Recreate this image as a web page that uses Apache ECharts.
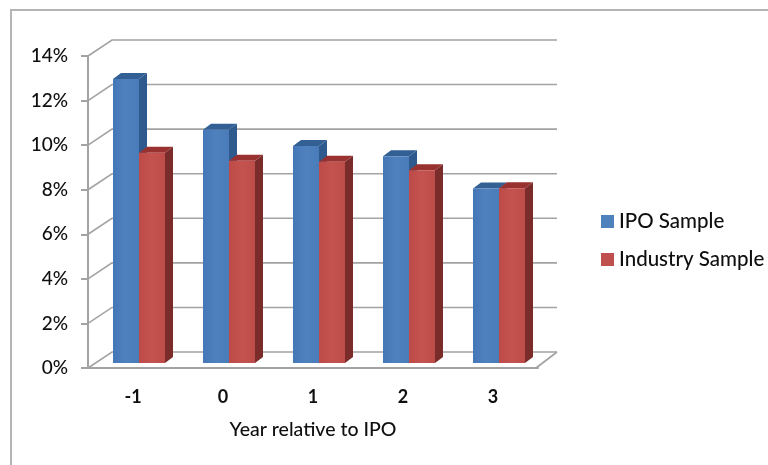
<!DOCTYPE html>
<html>
<head>
<meta charset="utf-8">
<style>html,body{margin:0;padding:0;background:#fff}#chart{width:768px;height:465px}</style>
<script src="https://cdn.jsdelivr.net/npm/echarts@6/dist/echarts.min.js"></script>
</head>
<body>
<div id="chart"></div>
<script>
// Profitability by year relative to IPO
const years = ['-1', '0', '1', '2', '3'];
const ipoSample = [12.74, 10.47, 9.74, 9.28, 7.83];
const industrySample = [9.43, 9.07, 9.03, 8.65, 7.84];
const wallTicks = [0, 2, 4, 6, 8, 10, 12, 14];

// Oblique projection used for the pseudo-3D look (pixels per depth step)
const WALL = [24, -16];        // front plane to back wall
const BAR_FRONT = [6, -5];     // front plane to front face of a bar
const BAR_DEPTH = [8, -6];     // front face to back face of a bar
const BAR_RATIO = 26 / 90;     // single bar width as a share of the category band
const LINE = '#a3a3a3';
const FONT = 'Lato';
const TEXT = '#0f0f0f';

function poly(points, fill) {
  return { type: 'polygon', shape: { points }, style: { fill }, silent: true };
}

// One cuboid per category; side = -1 puts it left of the band centre, 0 right of it
function barRenderer(palette, side) {
  return function (params, api) {
    const value = api.value(1);
    const band = api.size([1, 0])[0];
    const w = band * BAR_RATIO;
    const top = api.coord([api.value(0), value]);
    const base = api.coord([api.value(0), 0]);
    const x0 = top[0] + BAR_FRONT[0] + side * w;
    const x1 = x0 + w;
    const yt = top[1] + BAR_FRONT[1];
    const yb = base[1] + BAR_FRONT[1];
    const dx = BAR_DEPTH[0], dy = BAR_DEPTH[1];
    return {
      type: 'group',
      children: [
        poly([[x1, yt], [x1 + dx, yt + dy], [x1 + dx, yb + dy], [x1, yb]], palette.side),
        poly([[x0, yt], [x0 + dx, yt + dy], [x1 + dx, yt + dy], [x1, yt]], palette.top),
        poly([[x0, yt], [x1, yt], [x1, yb], [x0, yb]], palette.front)
      ]
    };
  };
}

// Back-wall gridlines with their diagonal return to the value axis, plus the floor edge
function wallRenderer(params, api) {
  const v = api.value(0);
  const y = api.coord([0, v])[1];
  const left = params.coordSys.x;
  const right = left + params.coordSys.width;
  const children = [{
    type: 'polyline',
    shape: { points: [[left, y], [left + WALL[0], y + WALL[1]], [right + WALL[0] - 5, y + WALL[1]]] },
    style: { stroke: LINE, lineWidth: 1.6, fill: null },
    silent: true
  }];
  if (v === 0) {
    children.push({
      type: 'line',
      shape: { x1: right - 2, y1: y, x2: right + WALL[0] - 5, y2: y + WALL[1] },
      style: { stroke: LINE, lineWidth: 1.6 },
      silent: true
    });
  }
  return { type: 'group', children };
}

const bluePalette = {
  front: { type: 'linear', x: 0, y: 0, x2: 1, y2: 0, colorStops: [
    { offset: 0, color: '#4577b8' }, { offset: 0.5, color: '#4f81bd' }, { offset: 1, color: '#4a7cba' }] },
  side: '#2f5a8e', top: '#325f94'
};
const redPalette = {
  front: { type: 'linear', x: 0, y: 0, x2: 1, y2: 0, colorStops: [
    { offset: 0, color: '#bd4a47' }, { offset: 0.5, color: '#c4534f' }, { offset: 1, color: '#bd4d4a' }] },
  side: '#7a2c2a', top: '#98312f'
};

const chart = echarts.init(document.getElementById('chart'), null, { renderer: 'canvas' });
chart.setOption({
  animation: false,
  backgroundColor: '#ffffff',
  textStyle: { fontFamily: FONT },
  graphic: [{
    type: 'polyline', silent: true, z: -1,
    shape: { points: [[11, 465], [11, 10], [768, 10]] },
    style: { stroke: '#b4b4b4', lineWidth: 2, fill: null }
  }],
  grid: { left: 88, right: 230, top: 56, bottom: 97 },
  legend: {
    data: [
      { name: 'IPO Sample', itemStyle: { color: '#4f81bd' } },
      { name: 'Industry Sample', itemStyle: { color: '#c0504d' } }
    ],
    orient: 'vertical',
    left: 596,
    top: 206,
    icon: 'rect',
    itemWidth: 13,
    itemHeight: 13,
    itemGap: 17,
    selectedMode: false,
    textStyle: { fontFamily: FONT, fontSize: 20.5, fontWeight: 500, color: TEXT }
  },
  xAxis: {
    type: 'category',
    data: years,
    boundaryGap: true,
    axisLine: { show: true, lineStyle: { color: LINE, width: 2 } },
    axisTick: { show: false },
    axisLabel: { fontFamily: FONT, fontSize: 18, fontWeight: 'bold', color: TEXT, margin: 20 },
    name: 'Year relative to IPO',
    nameLocation: 'middle',
    nameGap: 52,
    nameTextStyle: { fontFamily: FONT, fontSize: 19.5, fontWeight: 500, color: TEXT }
  },
  yAxis: {
    type: 'value',
    min: 0,
    max: 14,
    interval: 2,
    axisLine: { show: true, lineStyle: { color: LINE, width: 2 } },
    axisTick: { show: true, length: 7, lineStyle: { color: LINE, width: 2 } },
    splitLine: { show: false },
    axisLabel: { formatter: '{value}%', fontFamily: FONT, fontSize: 19, fontWeight: 500, color: TEXT, margin: 20 }
  },
  series: [
    {
      name: 'wall',
      type: 'custom',
      renderItem: wallRenderer,
      data: wallTicks.map(v => [v]),
      encode: { y: 0 },
      z: 1,
      silent: true
    },
    {
      name: 'IPO Sample',
      type: 'custom',
      renderItem: barRenderer(bluePalette, -1),
      data: years.map((y, i) => [i, ipoSample[i]]),
      encode: { x: 0, y: 1 },
      itemStyle: { color: '#4f81bd' },
      z: 2,
      silent: true
    },
    {
      name: 'Industry Sample',
      type: 'custom',
      renderItem: barRenderer(redPalette, 0),
      data: years.map((y, i) => [i, industrySample[i]]),
      encode: { x: 0, y: 1 },
      itemStyle: { color: '#c0504d' },
      z: 3,
      silent: true
    }
  ]
});
</script>
</body>
</html>
